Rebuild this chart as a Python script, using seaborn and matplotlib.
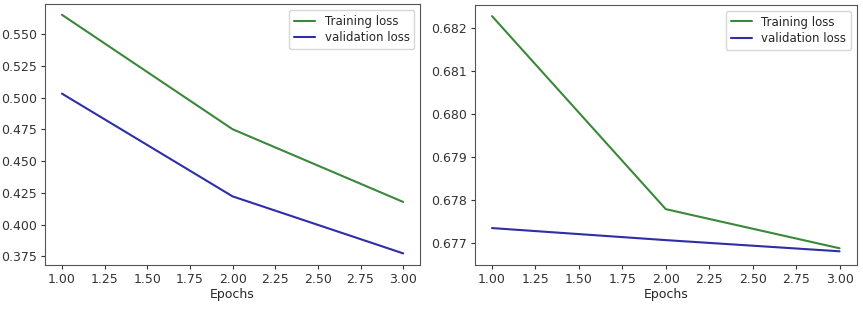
import pandas as pd
import matplotlib
matplotlib.use('Agg')
import matplotlib.pyplot as plt
import seaborn as sns

epochs = [1, 2, 3]
train_loss_a = [0.5655, 0.4752, 0.4178]
val_loss_a = [0.5033, 0.4222, 0.3772]
train_loss_b = [0.68228, 0.67779, 0.67688]
val_loss_b = [0.67735, 0.67707, 0.67681]

sns.set_style('white')
plt.rcParams['axes.edgecolor'] = '#555555'

fig = plt.figure(figsize=(8.63, 3.10), dpi=100)
ax1 = fig.add_axes([0.052, 0.145, 0.435, 0.842])
ax2 = fig.add_axes([0.550, 0.145, 0.443, 0.839])

for ax, tr, va in [(ax1, train_loss_a, val_loss_a), (ax2, train_loss_b, val_loss_b)]:
    df = pd.DataFrame({'Epochs': epochs, 'train': tr, 'val': va})
    sns.lineplot(data=df, x='Epochs', y='train', color='#3a883a', label='Training loss', ax=ax)
    sns.lineplot(data=df, x='Epochs', y='val', color='#2e2ea6', label='validation loss', ax=ax)
    ax.set_ylabel('')
    ax.set_xlabel('Epochs', labelpad=2, fontsize=9)
    ax.tick_params(axis='both', which='major', length=3, width=0.8, labelsize=9, pad=2.5,
                   bottom=True, left=True, colors='#333333')
    ax.legend(loc='upper right', fontsize=8.5, handlelength=1.8, borderpad=0.4,
              labelspacing=0.3)

ax1.set_yticks([0.375, 0.400, 0.425, 0.450, 0.475, 0.500, 0.525, 0.550])
ax1.set_ylim(0.368, 0.574)
ax2.set_yticks([0.677, 0.678, 0.679, 0.680, 0.681, 0.682])
ax2.set_ylim(0.67649, 0.68254)

plt.savefig('out.png', dpi=100)
